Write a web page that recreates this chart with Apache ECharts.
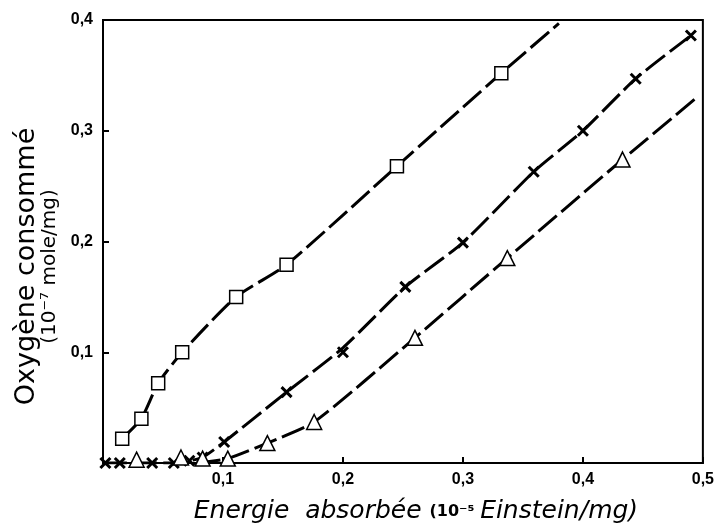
<!DOCTYPE html>
<html>
<head>
<meta charset="utf-8">
<script src="https://cdn.jsdelivr.net/npm/echarts@6/dist/echarts.min.js"></script>
<style>
html,body{margin:0;padding:0;background:#fff}
#chartmain{width:717px;height:529px}
</style>
</head>
<body>
<div id="chartmain"></div>
<script>
// measured points, x = 10^-5 Einstein/mg, y = 10^-7 mole/mg
var squarePts=[[0.016,0.022],[0.032,0.040],[0.046,0.072],[0.066,0.100],[0.111,0.150],[0.153,0.179],[0.245,0.268],[0.332,0.352]];
var crossPts=[[0.002,0],[0.014,0],[0.041,0],[0.059,0],[0.072,0.002],[0.083,0.005],[0.101,0.019],[0.153,0.064],[0.200,0.100],[0.252,0.159],[0.300,0.199],[0.359,0.263],[0.400,0.300],[0.444,0.347],[0.490,0.386]];
var trianglePts=[[0.028,0.003],[0.065,0.005],[0.083,0.004],[0.104,0.004],[0.137,0.018],[0.176,0.037],[0.260,0.113],[0.337,0.185],[0.433,0.274]];
// hand drawn curves through the points
var squareLine=[[0.016,0.022],[0.032,0.040],[0.046,0.072],[0.066,0.100],[0.111,0.150],[0.153,0.179],[0.245,0.268],[0.332,0.352],[0.380,0.397]];
var crossLine=[[0,0],[0.059,0],[0.072,0.002],[0.083,0.005],[0.101,0.019],[0.153,0.064],[0.200,0.104],[0.252,0.159],[0.300,0.199],[0.359,0.263],[0.400,0.300],[0.444,0.347],[0.490,0.386]];
var triangleLine=[[0.078,0],[0.104,0.004],[0.137,0.018],[0.176,0.037],[0.260,0.113],[0.337,0.185],[0.433,0.274],[0.496,0.331]];
var xTicks=[0,0.1,0.2,0.3,0.4,0.5];
var yTicks=[0,0.1,0.2,0.3,0.4];

function fmt(v){
	if(v===0) return "";
	return v.toFixed(1).replace(".",",");
}
var dash={color:"#000",width:3,type:[24,6]};
function curve(d){
	return {type:"line",data:d,smooth:0.2,symbol:"none",lineStyle:dash,z:2,silent:true};
}
function marks(d,sym,size,bw){
	return {type:"scatter",data:d,symbol:sym,symbolSize:size,z:3,
		itemStyle:{color:"#fff",borderColor:"#000",borderWidth:bw,opacity:1}};
}
option={
	animation:false,
	backgroundColor:"#fff",
	grid:{left:103,right:12,top:20,bottom:65,show:true,borderColor:"#000",borderWidth:2},
	xAxis:{
		type:"value",min:xTicks[0],max:xTicks[xTicks.length-1],interval:0.1,
		splitLine:{show:false},
		axisLine:{lineStyle:{color:"#000",width:2}},
		axisTick:{inside:true,length:6,lineStyle:{color:"#000",width:2}},
		axisLabel:{margin:9,formatter:fmt,fontFamily:"Liberation Sans",fontWeight:"bold",fontSize:16,color:"#000"},
		name:"{a|Energie  absorbée }{b|(10⁻⁵ }{a|Einstein/mg)}",
		nameLocation:"middle",nameGap:36,
		nameTextStyle:{padding:[0,0,0,26],rich:{
			a:{fontFamily:"DejaVu Sans",fontStyle:"italic",fontSize:25,color:"#000"},
			b:{fontFamily:"DejaVu Sans",fontWeight:"bold",fontSize:16,color:"#000"}
		}}
	},
	yAxis:{
		type:"value",min:yTicks[0],max:yTicks[yTicks.length-1],interval:0.1,
		splitLine:{show:false},
		axisLine:{lineStyle:{color:"#000",width:2}},
		axisTick:{inside:true,length:6,lineStyle:{color:"#000",width:2}},
		axisLabel:{margin:10,formatter:fmt,fontFamily:"Liberation Sans",fontWeight:"bold",fontSize:16,color:"#000"},
		name:"{a|Oxygène consommé}\n{b|(10⁻⁷ mole/mg)}",
		nameLocation:"middle",nameRotate:90,nameGap:38,
		nameTextStyle:{padding:[0,50,0,0],rich:{
			a:{fontFamily:"DejaVu Sans",fontSize:27,lineHeight:25,color:"#000"},
			b:{fontFamily:"DejaVu Sans",fontSize:20,lineHeight:21,color:"#000"}
		}}
	},
	series:[
		curve(squareLine),
		curve(crossLine),
		curve(triangleLine),
		marks(squarePts,"rect",13,1.5),
		marks(crossPts,"path://M0,0L10,10M10,0L0,10",10,3),
		marks(trianglePts,"triangle",15,1.5)
	]
};
var myChart=echarts.init(document.getElementById("chartmain"));
myChart.setOption(option);
</script>
</body>
</html>
